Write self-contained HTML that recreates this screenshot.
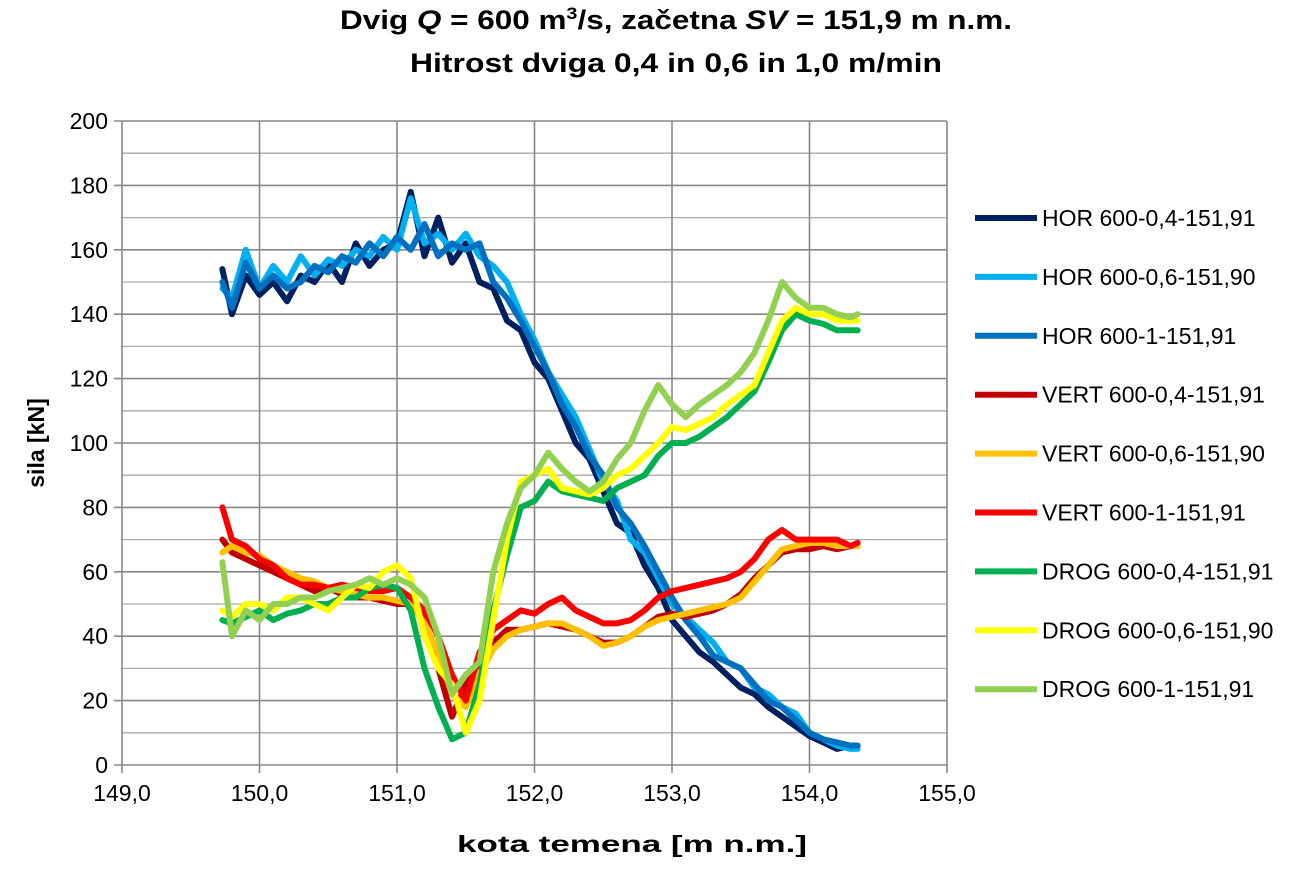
<!DOCTYPE html>
<html><head><meta charset="utf-8"><style>
body{margin:0;background:#fff;}
svg{display:block;font-family:"Liberation Sans",sans-serif;}
</style></head><body>
<svg id="chart" width="1312" height="884" viewBox="0 0 1312 884" xmlns="http://www.w3.org/2000/svg">
<rect width="1312" height="884" fill="#fff"/>
<text x="340" y="29" textLength="672" lengthAdjust="spacingAndGlyphs" font-size="27" font-weight="bold" fill="#000">Dvig <tspan font-style="italic">Q</tspan> = 600 m<tspan font-size="17" dy="-10">3</tspan><tspan dy="10">/s, začetna </tspan><tspan font-style="italic">SV</tspan> = 151,9 m n.m.</text>
<text x="410" y="72" textLength="532" lengthAdjust="spacingAndGlyphs" font-size="27" font-weight="bold" fill="#000">Hitrost dviga 0,4 in 0,6 in 1,0 m/min</text>
<g id="grid"></g>
<g id="axes"></g>
<g id="series"></g>
<g id="legend"></g>
<text transform="translate(44,443) rotate(-90)" text-anchor="middle" font-size="23" font-weight="bold">sila [kN]</text>
<text x="457" y="852" textLength="350" lengthAdjust="spacingAndGlyphs" font-size="23" font-weight="bold">kota temena [m n.m.]</text>
</svg>
<script>
const xTicks=[149,150,151,152,153,154,155];
const xTickLabels=["149,0","150,0","151,0","152,0","153,0","154,0","155,0"];
const yTicks=[0,20,40,60,80,100,120,140,160,180,200];
const xs=[149.73,149.8,149.9,150.0,150.1,150.2,150.3,150.4,150.5,150.6,150.7,150.8,150.9,151.0,151.1,151.2,151.3,151.4,151.5,151.6,151.7,151.8,151.9,152.0,152.1,152.2,152.3,152.4,152.5,152.6,152.7,152.8,152.9,153.0,153.1,153.2,153.3,153.4,153.5,153.6,153.7,153.8,153.9,154.0,154.1,154.2,154.3,154.35];
const hor04=[154,140,152,146,150,144,152,150,156,150,162,155,160,162,178,158,170,156,162,150,148,138,135,125,120,110,100,95,85,75,72,62,55,45,40,35,32,28,24,22,18,15,12,9,7,5,6,6];
const hor06=[148,145,160,148,155,150,158,152,157,155,160,158,164,160,176,162,165,160,165,158,155,150,140,132,122,115,108,98,88,82,70,66,58,50,46,42,38,32,30,24,22,18,16,10,8,6,5,5];
const hor1=[150,142,156,148,152,148,150,155,153,158,156,162,158,164,160,168,158,162,160,162,150,145,138,130,122,112,105,96,90,80,75,68,60,52,45,40,34,32,30,25,20,18,14,10,8,7,6,6];
const vert04=[70,66,64,62,60,58,56,54,55,53,52,52,51,50,50,45,30,15,25,32,38,42,42,43,44,43,42,40,38,38,40,43,46,47,46,47,48,50,53,58,62,66,67,67,68,67,68,68];
const vert06=[66,68,66,65,62,60,58,57,55,54,53,52,52,51,50,44,35,22,18,28,36,40,42,43,44,44,42,40,37,38,40,43,45,46,47,48,49,50,52,57,62,67,68,69,69,68,68,68];
const vert1=[80,70,68,64,62,58,56,56,55,56,55,54,54,55,52,48,40,28,20,35,42,45,48,47,50,52,48,46,44,44,45,48,52,54,55,56,57,58,60,64,70,73,70,70,70,70,68,69];
const drog04=[45,44,46,48,45,47,48,50,50,52,52,55,56,55,48,30,18,8,10,25,48,65,80,82,88,85,84,83,82,86,88,90,96,100,100,102,105,108,112,116,125,135,140,138,137,135,135,135];
const drog06=[48,46,50,50,48,52,52,50,48,52,56,55,60,62,58,40,30,25,10,20,45,70,88,90,92,86,85,84,86,90,92,96,100,105,104,106,108,112,115,118,128,138,142,140,140,138,138,138];
const drog1=[63,40,48,45,50,50,52,52,54,55,56,58,56,58,56,52,40,22,28,32,60,75,86,90,97,92,88,85,88,95,100,110,118,112,108,112,115,118,122,128,138,150,145,142,142,140,139,140];
const seriesNames=["HOR 600-0,4-151,91","HOR 600-0,6-151,90","HOR 600-1-151,91","VERT 600-0,4-151,91","VERT 600-0,6-151,90","VERT 600-1-151,91","DROG 600-0,4-151,91","DROG 600-0,6-151,90","DROG 600-1-151,91"];
const seriesData=[hor04,hor06,hor1,vert04,vert06,vert1,drog04,drog06,drog1];
const colors=["#002060","#00B0F0","#0070C0","#C00000","#FFC000","#FF0000","#00B050","#FFFF00","#92D050"];
const NS="http://www.w3.org/2000/svg";
const L=122,R=947,T=121,B=765;
const sx=v=>L+(v-149)/(155-149)*(R-L);
const sy=v=>B-(v/200)*(B-T);
function mk(tag,attrs,parent){const e=document.createElementNS(NS,tag);for(const k in attrs)e.setAttribute(k,attrs[k]);parent.appendChild(e);return e;}
const grid=document.getElementById('grid'),axes=document.getElementById('axes'),ser=document.getElementById('series'),leg=document.getElementById('legend');
for(let v=10;v<200;v+=20){const l=mk('line',{x1:L,x2:R,y1:sy(v),y2:sy(v),stroke:'#aaa','stroke-width':1.3},grid);

}
yTicks.forEach(v=>{const l=mk('line',{x1:L-8,x2:R,y1:sy(v),y2:sy(v),stroke:'#888','stroke-width':1.6},grid);


const t=mk('text',{x:L-14,y:sy(v)+8,'text-anchor':'end','font-size':23},axes);t.textContent=v;

});
xTicks.forEach((v,i)=>{const l=mk('line',{x1:sx(v),x2:sx(v),y1:T,y2:B+8,stroke:'#888','stroke-width':1.6},grid);


const t=mk('text',{x:sx(v),y:B+36,'text-anchor':'middle','font-size':23},axes);t.textContent=xTickLabels[i];

});
seriesData.forEach((d,i)=>{const p=mk('polyline',{points:d.map((v,j)=>sx(xs[j])+','+sy(v)).join(' '),fill:'none',stroke:colors[i],'stroke-width':6,'stroke-linejoin':'round','stroke-linecap':'round'},ser);


const y=218+i*58.9;
const g=mk('g',{},leg);


mk('line',{x1:975,x2:1037,y1:y,y2:y,stroke:colors[i],'stroke-width':6},g);
const t=mk('text',{x:1042,y:y+8,'font-size':23},g);t.textContent=seriesNames[i];});
</script>
</body></html>
